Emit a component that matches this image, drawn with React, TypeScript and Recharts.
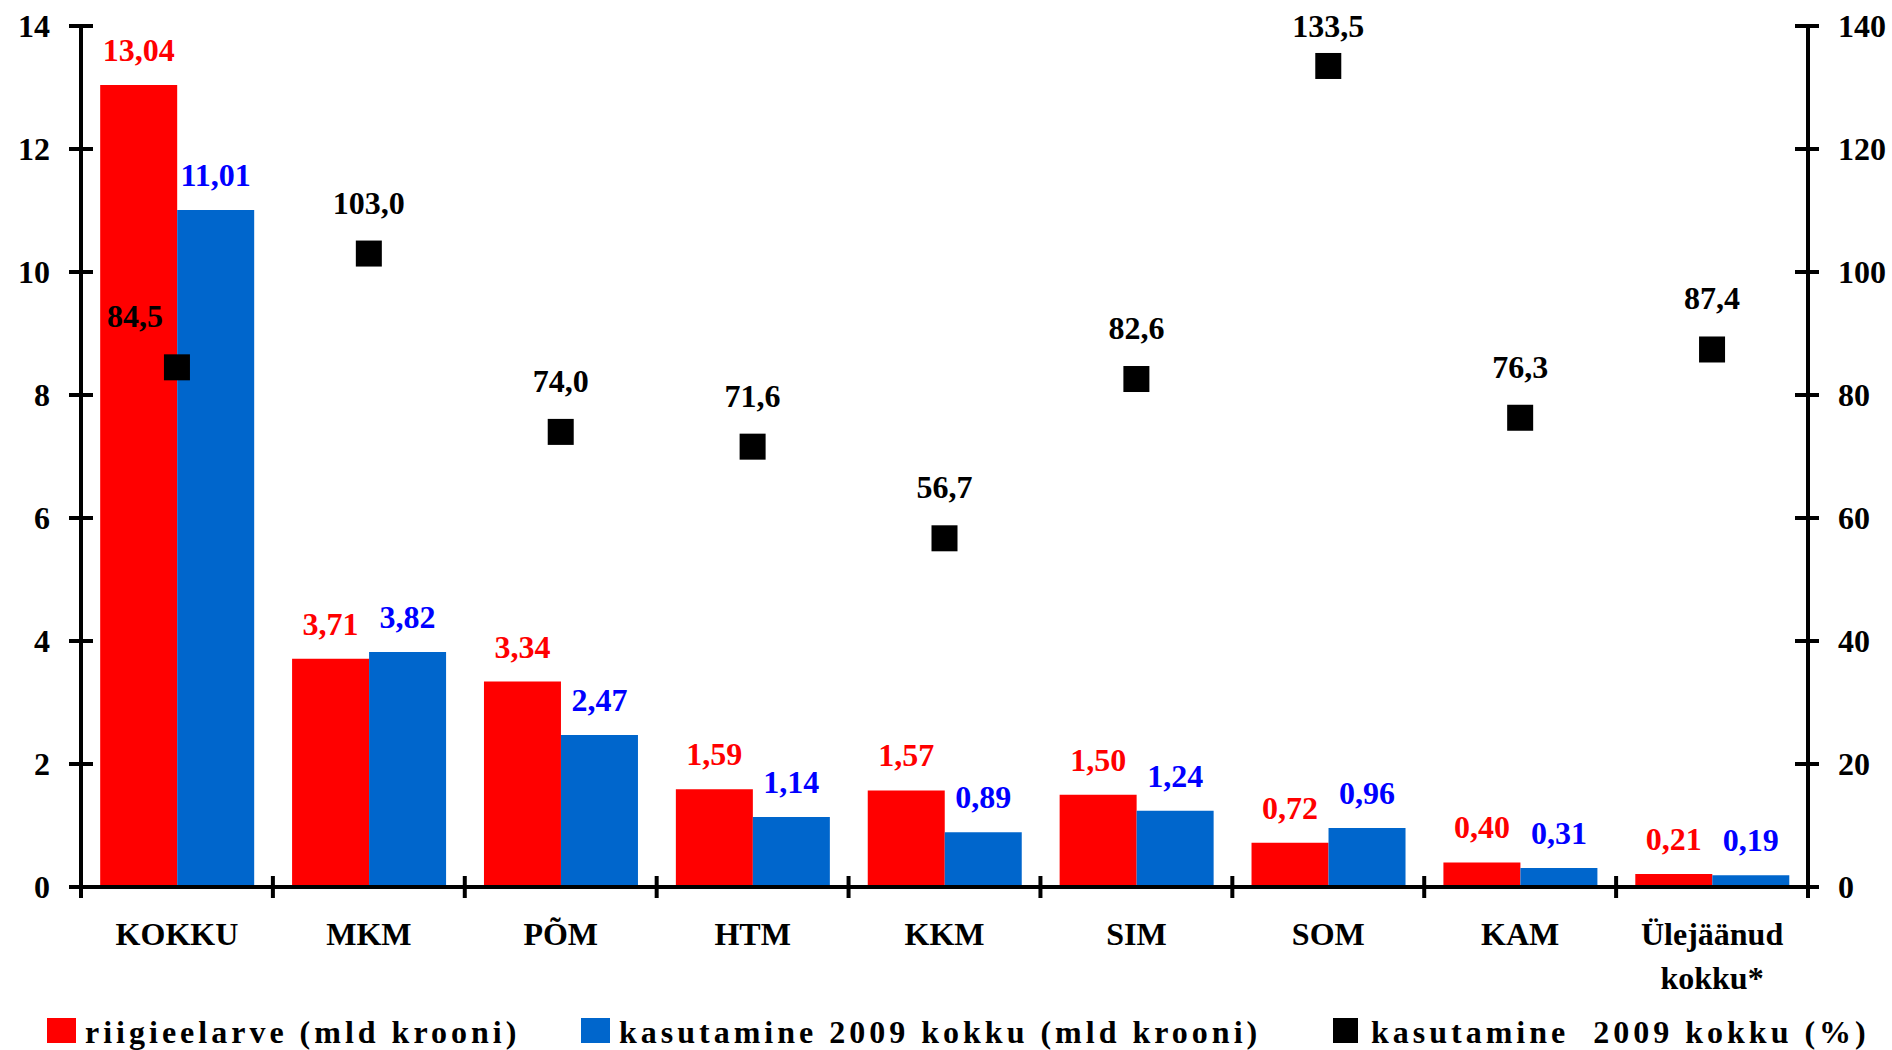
import { Bar, ComposedChart, LabelList, Scatter, XAxis, YAxis } from "recharts";

const categories = ["KOKKU", "MKM", "PÕM", "HTM", "KKM", "SIM", "SOM", "KAM", "Ülejäänud kokku*"];
const budget = [13.04, 3.71, 3.34, 1.59, 1.57, 1.5, 0.72, 0.4, 0.21];
const spent = [11.01, 3.82, 2.47, 1.14, 0.89, 1.24, 0.96, 0.31, 0.19];
const spentPct = [84.5, 103.0, 74.0, 71.6, 56.7, 82.6, 133.5, 76.3, 87.4];

const leftTicks = [0, 2, 4, 6, 8, 10, 12, 14];
const rightTicks = [0, 20, 40, 60, 80, 100, 120, 140];

const legendLabels = [
  "riigieelarve (mld krooni)",
  "kasutamine 2009 kokku (mld krooni)",
  "kasutamine  2009 kokku (%)",
];

const RED = "#FF0000";
const BLUE = "#0066CC";
const BLUE_TEXT = "#0000FF";
const FONT = '"Liberation Serif", "Times New Roman", serif';

const W = 1892;
const H = 1000;
const LEFT_W = 81;
const RIGHT_W = 84;
const TOP = 26;
const X_H = 113;
const BAND = (W - LEFT_W - RIGHT_W) / categories.length;
const GAP = 31;

const data = categories.map((name, i) => ({
  name,
  budget: budget[i],
  spent: spent[i],
  pct: spentPct[i],
}));

const comma = (v: number, d: number) => v.toFixed(d).replace(".", ",");

const textStyle = { fontFamily: FONT, fontSize: 32, fontWeight: 700 };

function LeftTick(props: any) {
  const { x, y, payload } = props;
  const ax = x + GAP;
  return (
    <g>
      <line x1={ax - 12} x2={ax + 12} y1={y} y2={y} stroke="#000" strokeWidth={4} />
      <text x={x} y={y} dy={11} textAnchor="end" fill="#000" style={textStyle}>
        {payload.value}
      </text>
    </g>
  );
}

function RightTick(props: any) {
  const { x, y, payload } = props;
  const ax = x - GAP;
  return (
    <g>
      <line x1={ax - 12} x2={ax + 12} y1={y} y2={y} stroke="#000" strokeWidth={4} />
      <text x={x} y={y} dy={11} textAnchor="start" fill="#000" style={textStyle}>
        {payload.value}
      </text>
    </g>
  );
}

function CategoryTick(props: any) {
  const { x, y, payload, index } = props;
  const lines = String(payload.value).split(" ");
  const last = index === categories.length - 1;
  return (
    <g>
      <line x1={x - BAND / 2} x2={x - BAND / 2} y1={y - 11} y2={y + 11} stroke="#000" strokeWidth={4} />
      {last && (
        <line x1={x + BAND / 2} x2={x + BAND / 2} y1={y - 11} y2={y + 11} stroke="#000" strokeWidth={4} />
      )}
      {lines.map((l, i) => (
        <text key={i} x={x} y={y + 58 + i * 44} textAnchor="middle" fill="#000" style={textStyle}>
          {l}
        </text>
      ))}
    </g>
  );
}

function SquareMark(props: any) {
  const { cx, cy, payload } = props;
  const s = 26;
  // the KOKKU label sits to the left, clear of the tall bars
  const dx = payload.name === "KOKKU" ? -42 : 0;
  const ly = Math.max(cy - 51, TOP) + 11;
  return (
    <g>
      <rect x={cx - s / 2} y={cy - s / 2} width={s} height={s} fill="#000" />
      <text x={cx + dx} y={ly} textAnchor="middle" fill="#000" style={textStyle}>
        {comma(payload.pct, 1)}
      </text>
    </g>
  );
}

export default function App() {
  return (
    <div style={{ position: "absolute", left: 0, top: 0, width: W, height: 1050, background: "#fff" }}>
      <ComposedChart
        width={W}
        height={H}
        data={data}
        margin={{ top: TOP, right: 0, bottom: 0, left: 0 }}
        barCategoryGap="10%"
        barGap={0}
      >
        <XAxis
          dataKey="name"
          height={X_H}
          interval={0}
          tickSize={0}
          tickMargin={0}
          tickLine={false}
          axisLine={{ stroke: "#000", strokeWidth: 4 }}
          tick={<CategoryTick />}
        />
        <YAxis
          yAxisId="left"
          orientation="left"
          width={LEFT_W}
          domain={[0, 14]}
          ticks={leftTicks}
          interval={0}
          tickSize={0}
          tickMargin={GAP}
          tickLine={false}
          axisLine={{ stroke: "#000", strokeWidth: 4 }}
          tick={<LeftTick />}
        />
        <YAxis
          yAxisId="right"
          orientation="right"
          width={RIGHT_W}
          domain={[0, 140]}
          ticks={rightTicks}
          interval={0}
          tickSize={0}
          tickMargin={GAP - 1}
          tickLine={false}
          axisLine={{ stroke: "#000", strokeWidth: 4 }}
          tick={<RightTick />}
        />
        <Bar yAxisId="left" dataKey="budget" fill={RED} isAnimationActive={false}>
          <LabelList
            dataKey="budget"
            position="top"
            offset={24}
            fill={RED}
            style={textStyle}
            formatter={(v: any) => comma(Number(v), 2)}
          />
        </Bar>
        <Bar yAxisId="left" dataKey="spent" fill={BLUE} isAnimationActive={false}>
          <LabelList
            dataKey="spent"
            position="top"
            offset={24}
            fill={BLUE_TEXT}
            style={textStyle}
            formatter={(v: any) => comma(Number(v), 2)}
          />
        </Bar>
        <Scatter yAxisId="right" dataKey="pct" fill="#000" shape={SquareMark} isAnimationActive={false} />
      </ComposedChart>

      <svg width={W} height={50} style={{ position: "absolute", left: 0, top: H }}>
        <rect x={47} y={18} width={29} height={25} fill={RED} />
        <text x={85} y={43} fill="#000" style={{ ...textStyle, letterSpacing: 4 }}>
          {legendLabels[0]}
        </text>
        <rect x={581} y={18} width={29} height={25} fill={BLUE} />
        <text x={619} y={43} fill="#000" style={{ ...textStyle, letterSpacing: 4 }}>
          {legendLabels[1]}
        </text>
        <rect x={1333} y={18} width={25} height={25} fill="#000" />
        <text x={1371} y={43} fill="#000" style={{ ...textStyle, letterSpacing: 4, whiteSpace: "pre" }}>
          {legendLabels[2]}
        </text>
      </svg>
    </div>
  );
}
